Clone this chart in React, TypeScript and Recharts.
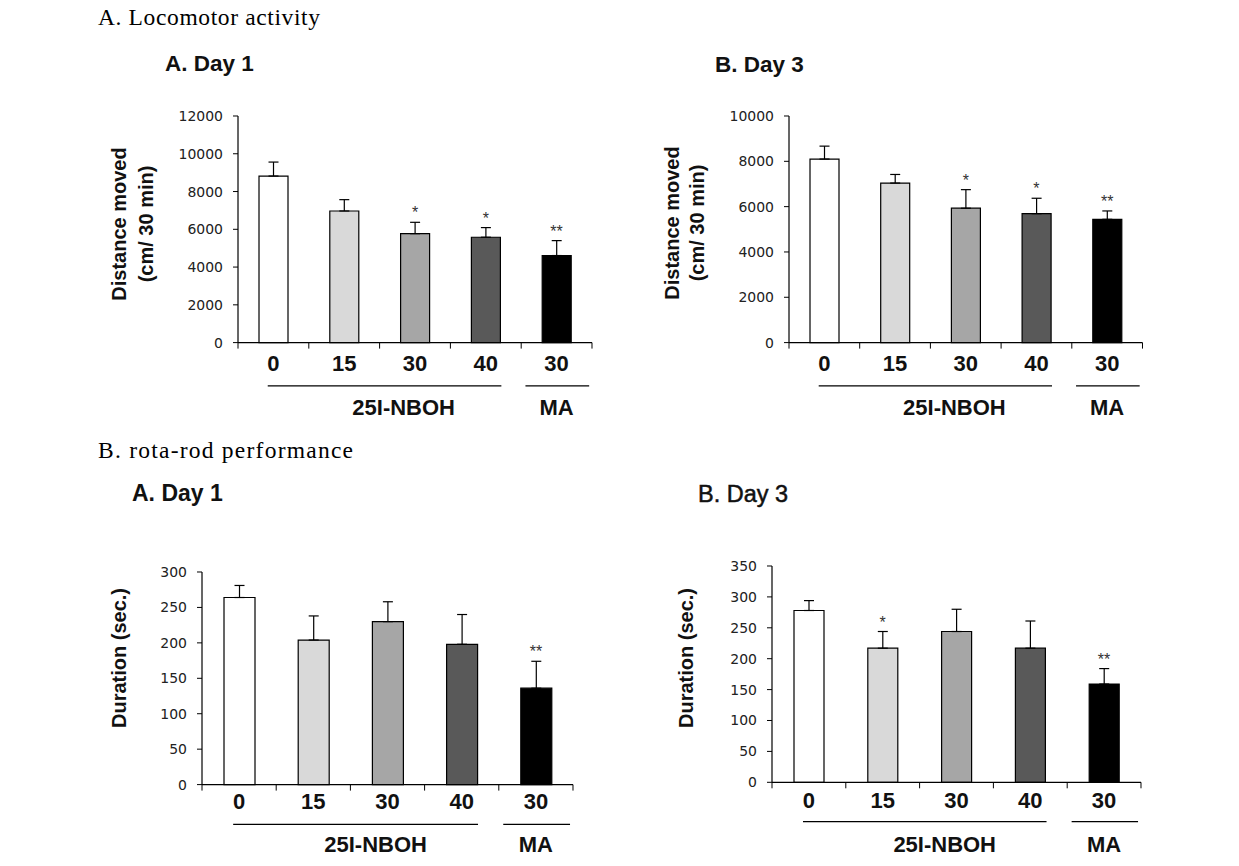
import { ComposedChart, Bar, Cell, ErrorBar, Line, XAxis, YAxis } from 'recharts';

// doses on the x axis, and the two treatment groups under them
const doses = ['0', '15', '30', '40', '30'];
const groupNames = ['25I-NBOH', 'MA'];
const barFills = ['#ffffff', '#d9d9d9', '#a6a6a6', '#595959', '#000000'];

// A. locomotor activity (cm / 30 min)
const locoDay1Mean = [8820, 6970, 5770, 5580, 4610];
const locoDay1Err = [740, 600, 600, 510, 790];
const locoDay1Sig = ['', '', '*', '*', '**'];
const locoDay3Mean = [8100, 7040, 5930, 5690, 5440];
const locoDay3Err = [570, 380, 820, 680, 370];
const locoDay3Sig = ['', '', '*', '*', '**'];

// B. rota-rod duration (sec.)
const rotaDay1Mean = [264, 204, 230, 198, 136];
const rotaDay1Err = [17, 34, 28, 42, 38];
const rotaDay1Sig = ['', '', '', '', '**'];
const rotaDay3Mean = [278, 217, 244, 217, 159];
const rotaDay3Err = [16, 27, 36, 44, 25];
const rotaDay3Sig = ['', '*', '', '', '**'];

const locoTicksDay1 = [0, 2000, 4000, 6000, 8000, 10000, 12000];
const locoTicksDay3 = [0, 2000, 4000, 6000, 8000, 10000];
const rotaTicksDay1 = [0, 50, 100, 150, 200, 250, 300];
const rotaTicksDay3 = [0, 50, 100, 150, 200, 250, 300, 350];

const SANS = '"Liberation Sans", Arial, sans-serif';
const SERIF = '"Liberation Serif", "Times New Roman", serif';

const buildRows = (mean: number[], err: number[], sig: string[]) =>
  doses.map((dose, i) => ({
    dose,
    mean: mean[i],
    err: [0, err[i]], // upper whisker only
    top: mean[i] + err[i],
    sig: sig[i],
  }));

interface Gaps { label: number; line: number; group: number }

interface PanelProps {
  rows: ReturnType<typeof buildRows>;
  ticks: number[];
  plotLeft: number;
  plotTop: number;
  plotW: number;
  plotH: number;
  barSize: number;
  gaps: Gaps;
}

function Panel({ rows, ticks, plotLeft, plotTop, plotW, plotH, barSize, gaps }: PanelProps) {
  const yw = 70, mt = 20, mr = 20, xh = 90;
  const band = plotW / rows.length;

  // dose label + boundary tick marks + group underline / group name
  const renderTick = (p: any) => {
    const { x, y, index, payload } = p;
    const last = index === rows.length - 1;
    return (
      <g>
        <line x1={x - band / 2} x2={x - band / 2} y1={y} y2={y + 6} stroke="#000" />
        {last && <line x1={x + band / 2} x2={x + band / 2} y1={y} y2={y + 6} stroke="#000" />}
        <text x={x} y={y + gaps.label} textAnchor="middle" fontFamily={SANS} fontWeight="bold"
          fontSize={22} fill="#111">{payload.value}</text>
        {index === 0 && (
          <line x1={x - 0.08 * band} x2={x + 3.22 * band} y1={y + gaps.line} y2={y + gaps.line}
            stroke="#000" strokeWidth={1.3} />
        )}
        {index === 2 && (
          <text x={x - 0.16 * band} y={y + gaps.group} textAnchor="middle" fontFamily={SANS}
            fontWeight="bold" fontSize={22} fill="#111">{groupNames[0]}</text>
        )}
        {last && (
          <>
            <line x1={x - 0.44 * band} x2={x + 0.46 * band} y1={y + gaps.line} y2={y + gaps.line}
              stroke="#000" strokeWidth={1.3} />
            <text x={x} y={y + gaps.group} textAnchor="middle" fontFamily={SANS}
              fontWeight="bold" fontSize={22} fill="#111">{groupNames[1]}</text>
          </>
        )}
      </g>
    );
  };

  const renderStar = (p: any) => (
    <text key={`s-${p.index}`} x={p.cx} y={p.cy - 4} textAnchor="middle" fontFamily={SANS}
      fontSize={16} fill="#333">{p.payload.sig}</text>
  );

  return (
    <div style={{ position: 'absolute', left: plotLeft - yw, top: plotTop - mt }}>
      <ComposedChart width={yw + plotW + mr} height={mt + plotH + xh} data={rows}
        margin={{ top: mt, right: mr, bottom: 0, left: 0 }}>
        <XAxis dataKey="dose" height={xh} interval={0} tickLine={false} tickSize={0} tickMargin={0}
          tick={renderTick} axisLine={{ stroke: '#000', strokeWidth: 1.2 }} />
        <YAxis width={yw} domain={[0, ticks[ticks.length - 1]]} ticks={ticks} interval={0}
          tickSize={5} tickMargin={10} axisLine={{ stroke: '#000', strokeWidth: 1.2 }}
          tickLine={{ stroke: '#000' }}
          tick={{ fontSize: 14, fill: '#222', fontFamily: '"DejaVu Sans", sans-serif' }} />
        <Bar dataKey="mean" barSize={barSize} stroke="#000" strokeWidth={1.2} isAnimationActive={false}>
          {rows.map((_, i) => <Cell key={i} fill={barFills[i]} />)}
          <ErrorBar dataKey="err" width={5} stroke="#000" strokeWidth={1.2} direction="y" />
        </Bar>
        <Line dataKey="top" stroke="none" dot={renderStar} activeDot={false} legendType="none"
          isAnimationActive={false} />
      </ComposedChart>
    </div>
  );
}

// rotated y-axis title, lines stacked left to right
function VText({ cx, cy, lines, gap }: { cx: number; cy: number; lines: string[]; gap: number }) {
  const x0 = cx - ((lines.length - 1) * gap) / 2;
  return (
    <>
      {lines.map((t, i) => (
        <text key={t} transform={`translate(${x0 + i * gap + 7},${cy}) rotate(-90)`} textAnchor="middle"
          fontFamily={SANS} fontWeight="bold" fontSize={20} fill="#111">{t}</text>
      ))}
    </>
  );
}

export default function App() {
  const topGaps = { label: 28.4, line: 43.2, group: 72.7 };
  return (
    <div style={{ position: 'absolute', left: 0, top: 0, width: 1239, height: 866, background: '#fff' }}>
      <Panel rows={buildRows(locoDay1Mean, locoDay1Err, locoDay1Sig)} ticks={locoTicksDay1}
        plotLeft={237.7} plotTop={115.7} plotW={354} plotH={226.6} barSize={29} gaps={topGaps} />
      <Panel rows={buildRows(locoDay3Mean, locoDay3Err, locoDay3Sig)} ticks={locoTicksDay3}
        plotLeft={789} plotTop={115.7} plotW={353.5} plotH={226.6} barSize={29} gaps={topGaps} />
      <Panel rows={buildRows(rotaDay1Mean, rotaDay1Err, rotaDay1Sig)} ticks={rotaTicksDay1}
        plotLeft={201.7} plotTop={571.7} plotW={371} plotH={212.6} barSize={31}
        gaps={{ label: 24, line: 39.7, group: 67.4 }} />
      <Panel rows={buildRows(rotaDay3Mean, rotaDay3Err, rotaDay3Sig)} ticks={rotaTicksDay3}
        plotLeft={772.3} plotTop={566} plotW={369} plotH={216.3} barSize={30}
        gaps={{ label: 26, line: 39.4, group: 69.4 }} />

      <svg width={1239} height={866} style={{ position: 'absolute', left: 0, top: 0, pointerEvents: 'none' }}>
        <text x={98} y={25} fontFamily={SERIF} fontSize={23.5} textLength={222} lengthAdjust="spacing"
          fill="#000">A. Locomotor activity</text>
        <text x={98} y={458} fontFamily={SERIF} fontSize={23.5} textLength={255} lengthAdjust="spacing"
          fill="#000">B. rota-rod performance</text>

        <text x={165} y={71} fontFamily={SANS} fontWeight="bold" fontSize={22.5} fill="#111">A. Day 1</text>
        <text x={715} y={72} fontFamily={SANS} fontWeight="bold" fontSize={22.5} fill="#111">B. Day 3</text>
        <text x={132} y={501} fontFamily={SANS} fontWeight="bold" fontSize={23} fill="#111">A. Day 1</text>
        <text x={698} y={502} fontFamily={SANS} fontSize={23.5} fill="#111" stroke="#111"
          strokeWidth={0.5}>B. Day 3</text>

        <VText cx={132.5} cy={224} lines={['Distance moved', '(cm/ 30 min)']} gap={27} />
        <VText cx={684.3} cy={223} lines={['Distance moved', '(cm/ 30 min)']} gap={25.5} />
        <VText cx={119} cy={658} lines={['Duration (sec.)']} gap={0} />
        <VText cx={685.5} cy={658} lines={['Duration (sec.)']} gap={0} />
      </svg>
    </div>
  );
}
